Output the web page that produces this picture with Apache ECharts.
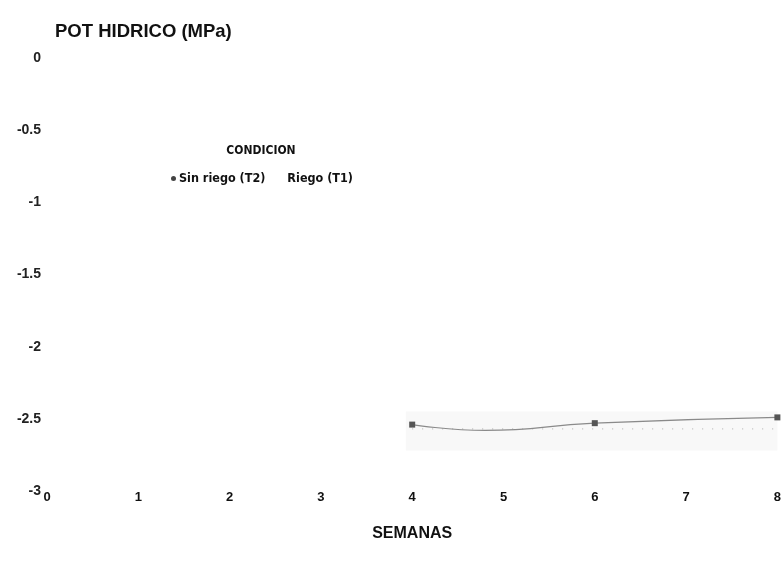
<!DOCTYPE html>
<html>
<head>
<meta charset="utf-8">
<script src="https://cdn.jsdelivr.net/npm/echarts@6/dist/echarts.min.js"></script>
<style>html,body{margin:0;padding:0;background:#fff}#c{width:784px;height:562px}</style>
</head>
<body>
<div id="c"></div>
<script>
const xTicks = [0, 1, 2, 3, 4, 5, 6, 7, 8];
const yTicks = [0, -0.5, -1, -1.5, -2, -2.5, -3];
const sinRiegoWeeks = [4, 4.8, 6, 8];
const sinRiegoValues = [-2.54, -2.58, -2.53, -2.49];
const sinRiegoMarked = [true, false, true, true];
const riegoWeeks = [4, 6, 8];
const riegoValues = [-2.57, -2.57, -2.57];

const chart = echarts.init(document.getElementById('c'));
const sinData = sinRiegoWeeks.map((w, i) => sinRiegoMarked[i]
  ? [w, sinRiegoValues[i]]
  : { value: [w, sinRiegoValues[i]], symbol: 'none' });
const riegoData = riegoWeeks.map((w, i) => [w, riegoValues[i]]);

chart.setOption({
  animation: false,
  backgroundColor: '#fff',
  title: [
    { text: 'POT HIDRICO (MPa)', left: 50, top: 17,
      textStyle: { fontFamily: 'Liberation Sans', fontWeight: 'bold', fontSize: 18.5, color: '#111' } },
    { text: 'CONDICION', left: 256, top: 140, textAlign: 'center',
      textStyle: { fontFamily: 'Liberation Sans Narrow, DejaVu Sans Condensed', fontWeight: 'bold', fontSize: 12, color: '#111' } }
  ],
  legend: {
    left: 166, top: 167, itemGap: 14, itemWidth: 5, itemHeight: 5,
    textStyle: { fontFamily: 'Liberation Sans Narrow, DejaVu Sans Condensed', fontWeight: 'bold', fontSize: 12.5, color: '#111', padding: [0,0,0,-2] },
    data: [
      { name: 'Sin riego (T2)', icon: 'circle', itemStyle: { color: '#444' } },
      { name: 'Riego (T1)', icon: 'circle', itemStyle: { opacity: 0 } }
    ]
  },
  grid: { left: 47, right: 3, top: 58, bottom: 71, containLabel: false },
  xAxis: {
    type: 'value', min: 0, max: 8, interval: 1,
    axisLine: { show: false }, axisTick: { show: false }, splitLine: { show: false },
    axisLabel: { margin: 0, fontFamily: 'Liberation Sans', fontWeight: 'bold', fontSize: 13, color: '#111',
      formatter: v => xTicks.includes(v) ? String(v) : '' },
    name: 'SEMANAS', nameLocation: 'middle', nameGap: 35,
    nameTextStyle: { fontFamily: 'Liberation Sans', fontWeight: 'bold', fontSize: 16, color: '#111' }
  },
  yAxis: {
    type: 'value', min: -3, max: 0, interval: 0.5,
    axisLine: { show: false }, axisTick: { show: false }, splitLine: { show: false },
    axisLabel: { margin: 6, fontFamily: 'Liberation Sans', fontWeight: 'bold', fontSize: 14, color: '#222',
      formatter: v => yTicks.includes(v) ? String(v) : '' }
  },
  series: [
    {
      name: 'Riego (T1)', type: 'line', data: riegoData,
      symbol: 'none', lineStyle: { color: '#bbb', width: 1.2, type: [1, 9] },
      itemStyle: { color: '#bbb' },
      markArea: { silent: true, itemStyle: { color: '#f8f8f8' },
        data: [[{ coord: [3.93, -2.45] }, { coord: [8, -2.72] }]] },
      z: 1
    },
    {
      name: 'Sin riego (T2)', type: 'line', data: sinData, smooth: 0.5,
      symbol: 'rect', symbolSize: 6,
      lineStyle: { color: '#8a8a8a', width: 1.2 },
      itemStyle: { color: '#555' },
      z: 3
    }
  ]
});
</script>
</body>
</html>
